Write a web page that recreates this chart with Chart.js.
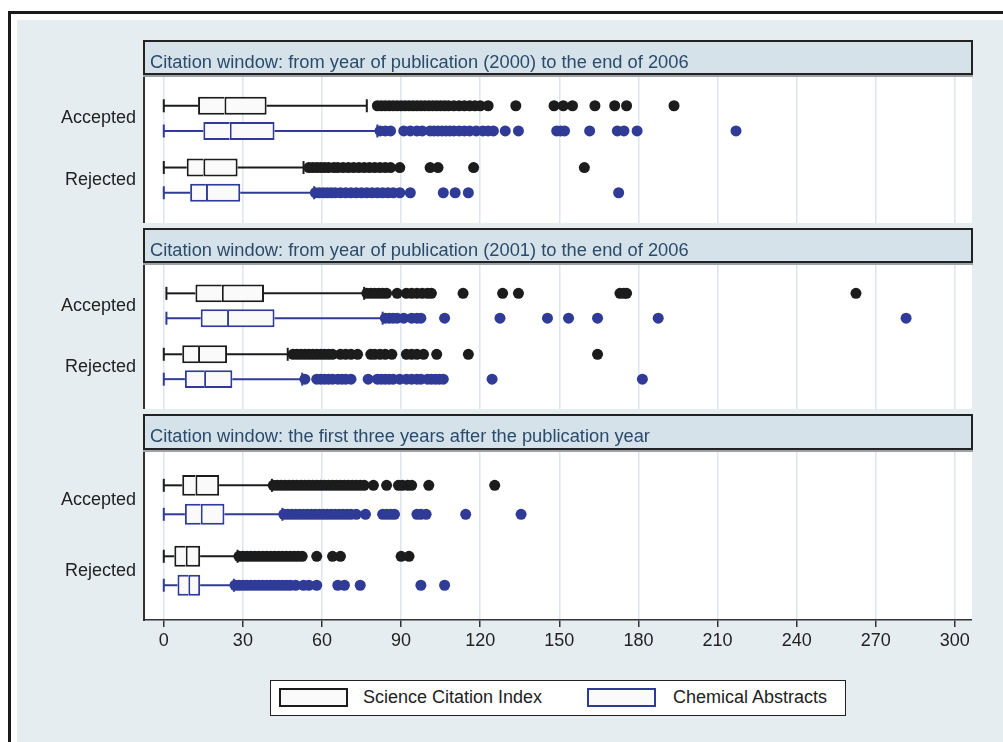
<!DOCTYPE html>
<html><head><meta charset="utf-8">
<script src="https://cdn.jsdelivr.net/npm/chart.js@4.4.1/dist/chart.umd.min.js"></script>
<style>
html,body{margin:0;padding:0;background:#fff;width:1003px;height:742px;overflow:hidden;font-family:"Liberation Sans",Arial,sans-serif;}
#frame{position:absolute;left:8px;top:11px;width:1000px;height:740px;border-left:3px solid #1a1a1a;border-top:3px solid #1a1a1a;}
#bg{position:absolute;left:17px;top:20px;right:0;bottom:0;background:#e6edf1;}
canvas{position:absolute;}
.hdr{position:absolute;left:143px;width:830px;height:35px;box-sizing:border-box;border:2px solid #222;background:#d6e2ea;color:#2b4b6b;font-size:18.3px;line-height:39px;padding-left:5px;white-space:nowrap;box-shadow:0 2px 0 #9aa3a8;}
#legend{position:absolute;left:270px;top:680px;width:576px;height:36px;box-sizing:border-box;border:1.5px solid #222;background:#fff;}
.sw{position:absolute;top:688px;width:69px;height:19px;box-sizing:border-box;border:2px solid #1c1c1c;background:#fafafa;}
.lt{position:absolute;top:687px;font-size:18px;line-height:21px;color:#222;white-space:nowrap;}
</style></head>
<body>
<div id="frame"></div>
<div id="bg"></div>
<canvas id="c1" width="932" height="148" style="left:40px;top:75px"></canvas>
<canvas id="c2" width="932" height="146" style="left:40px;top:263px"></canvas>
<canvas id="c3" width="932" height="230" style="left:40px;top:450px"></canvas>
<div class="hdr" id="h1" style="top:40px"></div>
<div class="hdr" id="h2" style="top:228px"></div>
<div class="hdr" id="h3" style="top:414px;height:36px"></div>
<div id="legend"></div>
<div class="sw" style="left:279px"></div>
<div class="lt" id="l1" style="left:363px"></div>
<div class="sw" style="left:587px;border-color:#2f3b97"></div>
<div class="lt" id="l2" style="left:673px"></div>
<script>
// ---------- data ----------
const panelTitles = [
  'Citation window: from year of publication (2000) to the end of 2006',
  'Citation window: from year of publication (2001) to the end of 2006',
  'Citation window: the first three years after the publication year'
];
const rowLabels = ['Accepted', 'Rejected'];
const seriesNames = ['Science Citation Index', 'Chemical Abstracts'];
const xTicks = [0, 30, 60, 90, 120, 150, 180, 210, 240, 270, 300];

// box stats: [lower whisker, Q1, median, Q3, upper whisker]
const p1AccSCI = [0, 13, 23, 39, 77];
const p1AccCA  = [0, 15, 25, 42, 81];
const p1RejSCI = [0, 8.7, 15, 28, 53];
const p1RejCA  = [0, 10, 16, 29, 57];
const p1AccSCIOut = [81, 82.5, 84, 85.5, 87, 88.5, 90, 91.5, 93, 94.5, 96, 97.5, 99, 100.5, 102, 103.5, 105, 106.5, 108, 110, 112, 114, 116, 118, 120, 123, 133.5, 148, 151.5, 155, 163.5, 171, 175.5, 193.5];
const p1AccCAOut  = [82, 84, 86, 91, 93.5, 96, 98, 101, 102.5, 104, 105.5, 107, 108.5, 110, 112, 114, 116, 118.5, 121, 123, 125, 129.5, 134.5, 149, 150.5, 152, 161.5, 172, 174.5, 179.5, 217];
const p1RejSCIOut = [55, 56.5, 58, 59.5, 61, 62.5, 64.5, 66, 68, 70, 72, 74, 76, 78, 80, 82, 84, 86, 89.5, 101, 104, 117.5, 159.5];
const p1RejCAOut  = [57.5, 59, 60.5, 62, 63.5, 65, 67, 69, 71, 73, 75, 77, 79, 81, 83, 85, 87, 89.5, 93.5, 106, 110.5, 115.5, 172.5];

const p2AccSCI = [1, 12, 22, 38, 76];
const p2AccCA  = [1, 14, 24, 42, 83];
const p2RejSCI = [0, 7, 13, 24, 47];
const p2RejCA  = [0, 8, 15.3, 26, 52.5];
const p2AccSCIOut = [77, 78.5, 80, 81.5, 83, 84.5, 88.5, 92, 94, 96, 98, 100, 101.5, 113.5, 128.5, 134.5, 173, 174.5, 175.5, 262.5];
const p2AccCAOut  = [84, 85.5, 87, 88.5, 91, 94, 96, 97.5, 106.5, 127.5, 145.5, 153.5, 164.5, 187.5, 281.5];
const p2RejSCIOut = [49, 50.5, 52, 53.5, 55, 56.5, 58, 59.5, 61, 62.5, 64, 67, 69, 71, 73.5, 78.5, 80, 82, 84, 86.5, 92, 94, 96, 98.5, 103.5, 115.5, 164.5];
const p2RejCAOut  = [53.5, 58, 59.5, 61, 62.5, 64, 66, 67.5, 69, 71, 77.5, 81, 82.5, 84, 85.5, 87, 89.5, 92, 94, 96, 97.5, 100, 101.5, 103, 104.5, 106, 124.5, 181.5];

const p3AccSCI = [0, 7, 12, 21, 41];
const p3AccCA  = [0, 8, 14, 23, 45];
const p3RejSCI = [0, 4, 8.3, 13.8, 28];
const p3RejCA  = [0, 5.2, 9.3, 13.8, 26.6];
const p3AccSCIOut = [41.5, 43, 44.5, 46, 47.5, 49, 50.5, 52, 53.5, 55, 56.5, 58, 59.5, 61, 62.5, 64, 65.5, 67, 68.5, 70, 71.5, 73, 74.5, 76, 79.5, 84.5, 89, 90.5, 92.5, 94, 100.5, 125.5];
const p3AccCAOut  = [45.5, 47, 48.5, 50, 51.5, 53, 54.5, 56, 57.5, 59, 60.5, 62, 63.5, 65, 66.5, 68, 69.5, 71, 73, 76.5, 83, 84.5, 86, 87.5, 96, 97.5, 99.5, 114.5, 135.5];
const p3RejSCIOut = [28.5, 30, 31.5, 33, 34.5, 36, 37.5, 39, 40.5, 42, 43.5, 45, 46.5, 48, 49.5, 51, 52.5, 58, 64, 67, 90, 93];
const p3RejCAOut  = [27, 28.5, 30, 31.5, 33, 34.5, 36, 37.5, 39, 40.5, 42, 43.5, 45, 46.5, 48, 50, 53, 55, 58, 66, 68.5, 74.5, 97.5, 106.5];

// ---------- layout / style ----------
const rowPos = [1, 2, 3.45, 4.45];      // SCI-acc, CA-acc, SCI-rej, CA-rej
const labelPos = [1.5, 3.95];
const sciColor = '#1c1c1c';
const caColor = '#2f3b97';
const boxFill = '#fafafa';
const gridColor = '#dde6ec';
const FONT = '"Liberation Sans", Arial, sans-serif';

document.getElementById('h1').textContent = panelTitles[0];
document.getElementById('h2').textContent = panelTitles[1];
document.getElementById('h3').textContent = panelTitles[2];
document.getElementById('l1').textContent = seriesNames[0];
document.getElementById('l2').textContent = seriesNames[1];

Chart.defaults.font.family = FONT;

const whiteArea = {
  id: 'whiteArea',
  beforeDraw(chart) {
    const {ctx, chartArea: a} = chart;
    ctx.save(); ctx.fillStyle = '#ffffff';
    ctx.fillRect(a.left, a.top, a.right - a.left, a.bottom - a.top);
    ctx.restore();
  }
};

function rowDatasets(stats, out, y, color) {
  const [lo, q1, med, q3, hi] = stats;
  const line = {type: 'line', borderColor: color, borderWidth: 2, pointRadius: 0, fill: false, order: 3};
  const bar = {type: 'bar', indexAxis: 'y', backgroundColor: boxFill, borderColor: color, borderWidth: 2,
    grouped: false, categoryPercentage: 1, barPercentage: 0.72, inflateAmount: 0, order: 2};
  return [
    Object.assign({data: [{x: lo, y}, {x: q1, y}]}, line),
    Object.assign({data: [{x: q3, y}, {x: hi, y}]}, line),
    {type: 'scatter', data: [{x: lo, y}, {x: hi, y}], pointStyle: 'line', rotation: 90, pointRadius: 6.5,
      borderColor: color, borderWidth: 2, order: 3},
    Object.assign({data: [{x: [q1, med], y}], borderSkipped: 'right'}, bar),
    Object.assign({data: [{x: [med, q3], y}], borderSkipped: false}, bar),
    {type: 'scatter', data: out.map(v => ({x: v, y})), pointRadius: 5.5, backgroundColor: color,
      borderWidth: 0, pointHoverRadius: 5.5, order: 1}
  ];
}

function makePanel(id, rows, showAxis, axisHeight) {
  let datasets = [];
  rows.forEach(r => { datasets = datasets.concat(rowDatasets(r[0], r[1], r[2], r[3])); });
  new Chart(document.getElementById(id), {
    type: 'scatter',
    data: {datasets},
    plugins: [whiteArea],
    options: {
      responsive: false, animation: false, devicePixelRatio: 1,
      layout: {padding: 0, autoPadding: false},
      events: [],
      plugins: {legend: {display: false}, tooltip: {enabled: false}},
      scales: {
        x: {
          type: 'linear', min: -7.5, max: 306.5, offset: false,
          afterBuildTicks: ax => { ax.ticks = xTicks.map(v => ({value: v})); },
          ticks: {display: showAxis, font: {size: 18}, color: '#222', padding: 3, maxRotation: 0, autoSkip: false},
          grid: {offset: false, color: gridColor, lineWidth: 1.5, drawTicks: showAxis, tickLength: 7, tickColor: '#333', tickWidth: 1.5},
          border: {display: showAxis, color: '#333', width: 1.5},
          afterFit: ax => { ax.height = axisHeight; ax.paddingLeft = 0; ax.paddingRight = 0; }
        },
        y: {
          type: 'linear', reverse: true, min: -0.22, max: 5.65, offset: false,
          afterBuildTicks: ax => { ax.ticks = labelPos.map(v => ({value: v})); },
          ticks: {font: {size: 18}, color: '#222', padding: 8, autoSkip: false,
            callback: (v, i) => rowLabels[i]},
          grid: {display: false, drawTicks: false, offset: false},
          border: {display: true, color: '#333', width: 2},
          afterFit: ax => { ax.width = 104; ax.paddingTop = 0; ax.paddingBottom = 0; }
        }
      }
    }
  });
}

makePanel('c1', [
  [p1AccSCI, p1AccSCIOut, rowPos[0], sciColor],
  [p1AccCA, p1AccCAOut, rowPos[1], caColor],
  [p1RejSCI, p1RejSCIOut, rowPos[2], sciColor],
  [p1RejCA, p1RejCAOut, rowPos[3], caColor]
], false, 0);
makePanel('c2', [
  [p2AccSCI, p2AccSCIOut, rowPos[0], sciColor],
  [p2AccCA, p2AccCAOut, rowPos[1], caColor],
  [p2RejSCI, p2RejSCIOut, rowPos[2], sciColor],
  [p2RejCA, p2RejCAOut, rowPos[3], caColor]
], false, 0);
makePanel('c3', [
  [p3AccSCI, p3AccSCIOut, rowPos[0], sciColor],
  [p3AccCA, p3AccCAOut, rowPos[1], caColor],
  [p3RejSCI, p3RejSCIOut, rowPos[2], sciColor],
  [p3RejCA, p3RejCAOut, rowPos[3], caColor]
], true, 60);
</script>
</body></html>
